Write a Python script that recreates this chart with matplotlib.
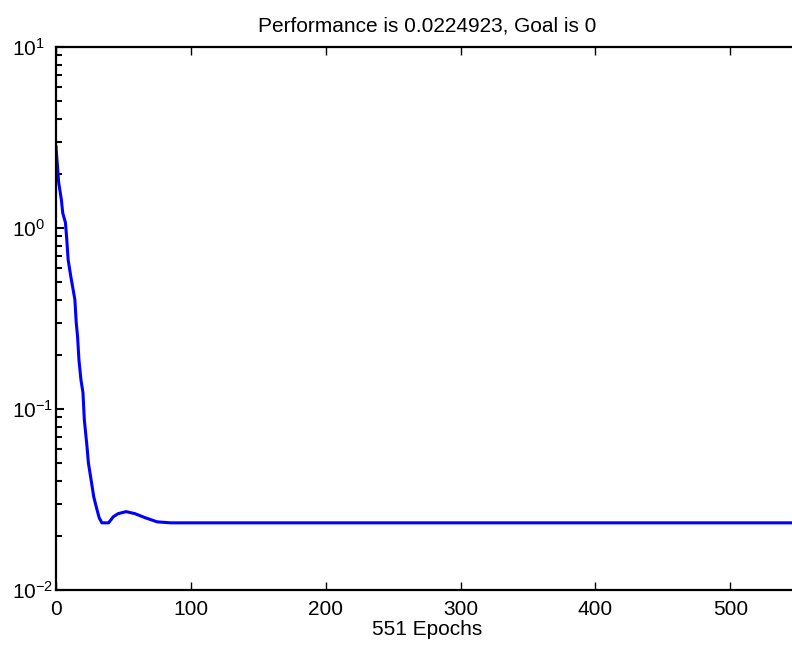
import matplotlib.pyplot as plt
import numpy as np

plt.rcParams['font.family'] = ['Liberation Sans', 'DejaVu Sans']

# training performance
epochs = [0, 1, 2, 4, 5, 7, 8, 9, 11, 14, 15, 16, 17, 18.5, 20, 21, 23, 24, 26, 28,
          30, 32, 34, 39, 42.5, 46, 52, 58.6, 66, 75, 85, 551]
perf = [2.81, 2.24, 1.78, 1.43, 1.21, 1.07, 0.862, 0.668, 0.538, 0.402, 0.300, 0.251,
        0.187, 0.145, 0.123, 0.0873, 0.0619, 0.0505, 0.0407, 0.0327, 0.0285, 0.0251,
        0.0235, 0.0235, 0.0254, 0.0264, 0.0271, 0.0264, 0.0251, 0.0238, 0.0235, 0.0235]
n_epochs = 551
best = 0.0224923
goal = 0
xticks = [0, 100, 200, 300, 400, 500]
yticks = [1e-2, 1e-1, 1e0, 1e1]
ylabels = [r'$\mathregular{10^{-2}}$', r'$\mathregular{10^{-1}}$',
           r'$\mathregular{10^{0}}$', r'$\mathregular{10^{1}}$']

fig = plt.figure(figsize=(7.92, 6.45), dpi=100)
ax = fig.add_axes([56/792, 55/645, 743/792, 543/645])

ax.semilogy(epochs, perf, color='#0000ff', linewidth=2.2)
ax.set_xlim(0, n_epochs)
ax.set_ylim(1e-2, 1e1)
ax.set_xticks(xticks)
ax.set_yticks(yticks, ylabels)

for s in ax.spines.values():
    s.set_linewidth(1.6)
ax.tick_params(which='both', direction='in', top=True, right=False, labelsize=15)
ax.tick_params(axis='x', which='major', length=6, width=1, pad=7)
ax.tick_params(axis='y', which='major', length=6, width=1.5, pad=32)
ax.tick_params(axis='y', which='minor', length=4, width=1.5)
# labels start at the same place, exponent sticks out to the right
plt.setp(ax.get_yticklabels(), ha='left')

ax.set_title('Performance is ' + str(best) + ', Goal is ' + str(goal), fontsize=15, pad=11)
ax.set_xlabel(str(n_epochs) + ' Epochs', fontsize=15, labelpad=1)

fig.savefig('out.png', dpi=100)
